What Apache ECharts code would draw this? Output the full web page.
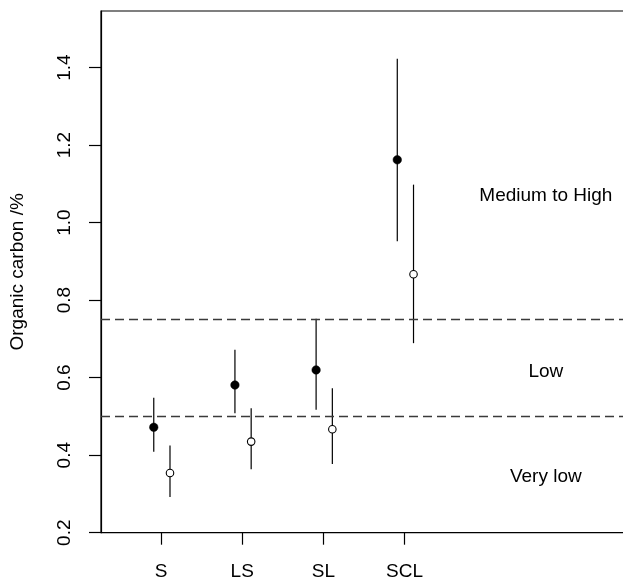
<!DOCTYPE html>
<html>
<head>
<meta charset="utf-8">
<script src="https://cdn.jsdelivr.net/npm/echarts@6/dist/echarts.min.js"></script>
<style>
html,body{margin:0;padding:0;background:#fff;}
#chart{width:623px;height:584px;}
</style>
</head>
<body>
<div id="chart"></div>
<script>
// ---- data ----
var categories = ['S', 'LS', 'SL', 'SCL'];
var filledMean = [0.472, 0.581, 0.620, 1.162];
var filledLow  = [0.409, 0.508, 0.517, 0.952];
var filledHigh = [0.548, 0.672, 0.752, 1.423];
var openMean   = [0.354, 0.435, 0.467, 0.867];
var openLow    = [0.292, 0.364, 0.377, 0.689];
var openHigh   = [0.425, 0.521, 0.573, 1.098];
var yTicks = [0.2, 0.4, 0.6, 0.8, 1.0, 1.2, 1.4];
var thresholds = [0.5, 0.75];
var zoneNames = ['Medium to High', 'Low', 'Very low'];
var zoneY = [1.07, 0.616, 0.345];
var zoneX = 5.74;
var yTitle = 'Organic carbon /%';

// ---- build ----
var FONT = 'Liberation Sans, Arial, Helvetica, sans-serif';
var xPos = categories.map(function (c, i) { return i + 1; });
var filledOff = -0.09, openOff = 0.11;

function pts(means, off) {
  return means.map(function (v, i) { return [xPos[i] + off, v]; });
}
function bars(lo, hi, off) {
  return lo.map(function (v, i) { return [xPos[i] + off, v, hi[i]]; });
}
function errRender(params, api) {
  var p1 = api.coord([api.value(0), api.value(1)]);
  var p2 = api.coord([api.value(0), api.value(2)]);
  return {
    type: 'line',
    shape: { x1: p1[0], y1: p1[1], x2: p2[0], y2: p2[1] },
    style: { stroke: '#000', lineWidth: 1.2 }
  };
}

var chart = echarts.init(document.getElementById('chart'), null, { renderer: 'canvas' });
chart.setOption({
  animation: false,
  backgroundColor: '#fff',
  grid: {
    left: 101, top: 11, width: 526, height: 521.7,
    show: true, borderColor: '#000', borderWidth: 1.2, backgroundColor: 'transparent',
    containLabel: false, outerBoundsMode: 'none'
  },
  xAxis: {
    type: 'value', min: 0.26, max: 6.74,
    splitLine: { show: false },
    axisLine: { show: true, onZero: false, lineStyle: { color: '#000', width: 1.2 } },
    axisTick: { show: true, length: 12, lineStyle: { color: '#000', width: 1.2 }, customValues: xPos },
    axisLabel: {
      show: true, customValues: xPos, margin: 30,
      color: '#000', fontSize: 19, fontFamily: FONT,
      formatter: function (v) { return categories[Math.round(v) - 1] || ''; }
    }
  },
  yAxis: {
    type: 'value', min: 0.2, max: 1.546,
    splitLine: { show: false },
    axisLine: { show: true, onZero: false, lineStyle: { color: '#000', width: 1.2 } },
    axisTick: { show: true, length: 12, lineStyle: { color: '#000', width: 1.2 }, customValues: yTicks },
    axisLabel: {
      show: true, customValues: yTicks, rotate: 90, margin: 27,
      color: '#000', fontSize: 19, fontFamily: FONT,
      formatter: function (v) { return v.toFixed(1); }
    },
    name: yTitle, nameLocation: 'middle', nameRotate: 90, nameGap: 74,
    nameTextStyle: { color: '#000', fontSize: 19, fontFamily: FONT }
  },
  series: [
    {
      type: 'line', data: [], silent: true,
      markLine: {
        silent: true, symbol: ['none', 'none'], label: { show: false },
        lineStyle: { color: '#3a3a3a', width: 1.4, type: [9, 5], opacity: 1 },
        data: thresholds.map(function (t) { return { yAxis: t }; })
      }
    },
    { type: 'custom', renderItem: errRender, data: bars(filledLow, filledHigh, filledOff), silent: true, z: 3 },
    { type: 'custom', renderItem: errRender, data: bars(openLow, openHigh, openOff), silent: true, z: 3 },
    {
      type: 'scatter', data: pts(filledMean, filledOff), symbol: 'circle', symbolSize: 8.5,
      itemStyle: { color: '#000', borderColor: '#000', borderWidth: 0.5, opacity: 1 }, z: 5, silent: true
    },
    {
      type: 'scatter', data: pts(openMean, openOff), symbol: 'circle', symbolSize: 7.5,
      itemStyle: { color: '#fff', borderColor: '#000', borderWidth: 1.1, opacity: 1 }, z: 5, silent: true
    },
    {
      type: 'scatter', silent: true, symbolSize: 0, z: 6,
      itemStyle: { opacity: 1 },
      data: zoneNames.map(function (n, i) { return { value: [zoneX, zoneY[i]], name: n }; }),
      label: {
        show: true, position: 'inside', color: '#000', opacity: 1, fontSize: 19, fontFamily: FONT,
        formatter: function (p) { return p.name; }
      }
    }
  ]
});
</script>
</body>
</html>
